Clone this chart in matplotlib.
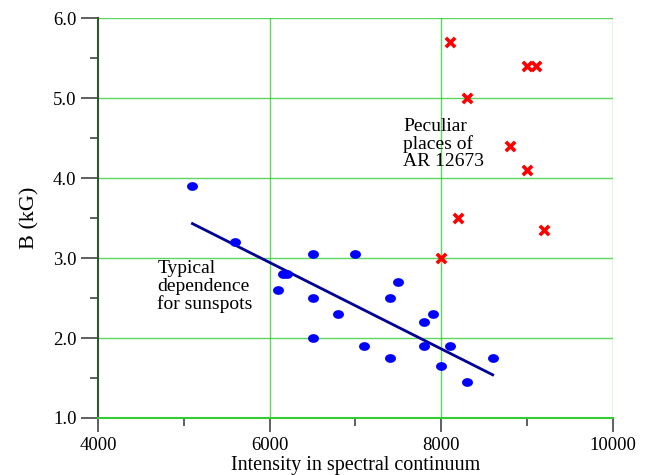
import matplotlib.pyplot as plt
import numpy as np

# Sunspot data (blue dots)
spot_i = [5100, 5600, 6100, 6150, 6200, 6500, 6500, 6500, 6800, 7000, 7100,
          7400, 7400, 7500, 7800, 7800, 7900, 8000, 8100, 8300, 8600]
spot_b = [3.9, 3.2, 2.6, 2.8, 2.8, 3.05, 2.5, 2.0, 2.3, 3.05, 1.9,
          2.5, 1.75, 2.7, 2.2, 1.9, 2.3, 1.65, 1.9, 1.45, 1.75]

# Peculiar places of AR 12673 (red crosses)
pec_i = [8100, 9000, 9100, 8300, 8800, 9000, 8200, 9200, 8000]
pec_b = [5.7, 5.4, 5.4, 5.0, 4.4, 4.1, 3.5, 3.35, 3.0]

# Typical dependence line
fit_i = [5100, 8600]
fit_b = [3.43, 1.54]

plt.rcParams['font.family'] = ['Liberation Serif', 'DejaVu Serif']

fig = plt.figure(figsize=(6.54, 4.75), dpi=100)
ax = fig.add_axes([0.15, 0.12, 0.787, 0.842])

green = '#33cc33'
for x in [6000, 8000, 10000]:
    ax.axvline(x, color=green, lw=1, alpha=0.8, zorder=1)
for y in [1, 2, 3, 4, 5, 6]:
    ax.axhline(y, color=green, lw=1, alpha=0.8, zorder=1)

# slightly wide ellipse, like the stretched dots of the original
t = np.linspace(0, 2 * np.pi, 40)
ellipse = list(zip(1.25 * np.cos(t), np.sin(t)))

ax.plot(fit_i, fit_b, color='#000099', lw=2, zorder=3)
ax.scatter(spot_i, spot_b, s=62, color='#0000ff', marker=ellipse, zorder=4,
           linewidths=0)
ax.scatter(pec_i, pec_b, s=45, color='#ff0000', marker='x', linewidths=2.6,
           zorder=4)

ax.text(4690, 2.97, "Typical\ndependence\nfor sunspots", fontsize=14,
        va='top', ha='left', linespacing=1.02)
ax.text(7555, 4.75, "Peculiar\nplaces of\nAR 12673", fontsize=14,
        va='top', ha='left', linespacing=1.02)

ax.set_xlim(4000, 10000)
ax.set_ylim(1.0, 6.0)
ax.set_xticks([4000, 6000, 8000, 10000])
ax.set_xticks([5000, 7000, 9000], minor=True)
ax.set_yticks([1, 2, 3, 4, 5, 6])
ax.set_yticklabels(['1.0', '2.0', '3.0', '4.0', '5.0', '6.0'])
ax.set_yticks([1.5, 2.5, 3.5, 4.5, 5.5], minor=True)
ax.tick_params(which='major', direction='out', width=1.2,
               color='#444444', labelsize=13.5)
ax.tick_params(axis='y', which='major', length=12)
ax.tick_params(axis='x', which='major', length=10, pad=4)
ax.tick_params(which='minor', direction='out', length=6, width=1.2,
               color='#444444')

for s in ['top', 'right']:
    ax.spines[s].set_visible(False)
ax.spines['left'].set_color('#2d5a2d')
ax.spines['left'].set_linewidth(1.5)
ax.spines['bottom'].set_color(green)
ax.spines['bottom'].set_linewidth(1.5)

ax.set_xlabel("Intensity in spectral continuum", fontsize=14.5, labelpad=1)
ax.set_ylabel("B (kG)", fontsize=16, labelpad=10)

fig.savefig('out.png', dpi=100)
